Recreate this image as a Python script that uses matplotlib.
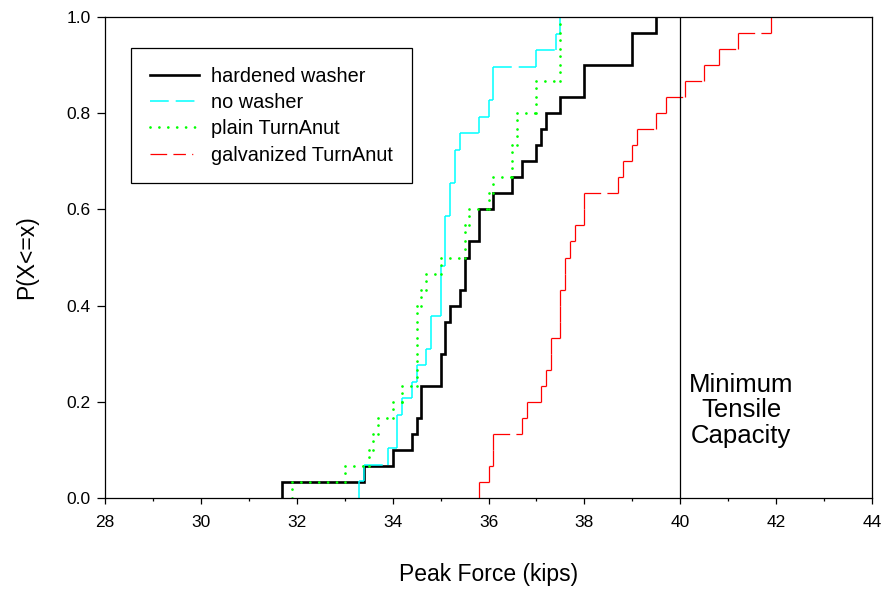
import numpy as np
import matplotlib
matplotlib.use("Agg")
import matplotlib.pyplot as plt
from matplotlib.collections import LineCollection
from matplotlib.lines import Line2D
from matplotlib.ticker import MultipleLocator

plt.rcParams['font.family'] = ['Liberation Sans', 'DejaVu Sans']
plt.rcParams['lines.scale_dashes'] = False

# peak force samples (kips) for each nut / washer setup
hardened_washer = [31.7, 33.4, 34.0, 34.4, 34.5, 34.6, 34.6, 35.0, 35.0, 35.1,
                   35.1, 35.2, 35.4, 35.5, 35.5, 35.6, 35.8, 35.8, 36.1, 36.5,
                   36.7, 37.0, 37.1, 37.2, 37.5, 38.0, 38.0, 39.0, 39.0, 39.5]
no_washer = [33.3, 33.4, 33.9, 34.1, 34.1, 34.2, 34.4, 34.5, 34.7, 34.8,
             34.8, 35.0, 35.0, 35.0, 35.1, 35.1, 35.1, 35.2, 35.2, 35.3,
             35.3, 35.4, 35.8, 36.0, 36.1, 36.1, 37.0, 37.4, 37.5]
plain_turnanut = [31.9, 33.0, 33.5, 33.6, 33.7, 34.0, 34.2, 34.5, 34.5, 34.5,
                  34.5, 34.5, 34.6, 34.7, 35.0, 35.5, 35.5, 35.6, 36.0, 36.1,
                  36.5, 36.5, 36.6, 36.6, 37.0, 37.0, 37.5, 37.5, 37.5, 37.5]
galvanized_turnanut = [35.8, 36.0, 36.1, 36.1, 36.7, 36.8, 37.1, 37.2, 37.3, 37.3,
                       37.5, 37.5, 37.5, 37.6, 37.6, 37.7, 37.8, 38.0, 38.0, 38.7,
                       38.8, 39.0, 39.1, 39.5, 39.7, 40.1, 40.5, 40.8, 41.2, 41.9]

min_tensile = 40.0
x_ticks = [28, 30, 32, 34, 36, 38, 40, 42, 44]
y_ticks = [0.0, 0.2, 0.4, 0.6, 0.8, 1.0]

# line styles (dash lengths in points)
DASH_NW = (0, (13.5, 5))
DOT_PT = (0, (0.01, 6.4))
DASH_GT = (0, (12, 4.5, 9, 4.5, 0.8, 4.5))


def ecdf_segments(samples):
    """one vertical edge per sample plus the tread to the next sample,
    so a dash pattern restarts on every piece"""
    x = np.sort(np.asarray(samples, dtype=float))
    n = len(x)
    segs = []
    for i in range(n):
        y0, y1 = i / n, (i + 1) / n
        segs.append([(x[i], y0), (x[i], y1)])
        if i + 1 < n and x[i + 1] > x[i]:
            segs.append([(x[i], y1), (x[i + 1], y1)])
    return segs


def ecdf_path(samples):
    x = np.sort(np.asarray(samples, dtype=float))
    n = len(x)
    xs, ys = [], []
    for i in range(n):
        xs += [x[i], x[i]]
        ys += [i / n, (i + 1) / n]
    return np.array(xs), np.array(ys)


fig = plt.figure(figsize=(8.86, 5.90), dpi=100)
ax = fig.add_axes([105 / 886, 1 - 498 / 590, 767 / 886, 481 / 590])

xs, ys = ecdf_path(hardened_washer)
ax.plot(xs, ys, color='black', lw=1.9, solid_joinstyle='miter')

ax.add_collection(LineCollection(ecdf_segments(no_washer), colors='#00FFFF',
                                 linewidths=1.1, linestyles=[DASH_NW]))
ax.add_collection(LineCollection(ecdf_segments(plain_turnanut), colors='#00FF00',
                                 linewidths=2.0, linestyles=[DOT_PT], capstyle='round'))
ax.add_collection(LineCollection(ecdf_segments(galvanized_turnanut), colors='#FF0000',
                                 linewidths=0.9, linestyles=[DASH_GT]))

ax.axvline(min_tensile, color='black', lw=0.9)
ax.text(41.27, 0.182, 'Minimum\nTensile\nCapacity', ha='center', va='center',
        multialignment='center', fontsize=18.5, linespacing=1.1)

ax.set_xlim(28, 44)
ax.set_ylim(0, 1)
ax.set_xticks(x_ticks)
ax.set_yticks(y_ticks)
ax.set_yticklabels([f'{v:.1f}' for v in y_ticks])
ax.xaxis.set_minor_locator(MultipleLocator(1))
ax.tick_params(axis='both', which='major', direction='out', labelsize=12.5,
               width=0.9, color='black')
ax.tick_params(axis='x', which='major', length=4, pad=8)
ax.tick_params(axis='x', which='minor', length=2.5, width=0.9)
ax.tick_params(axis='y', which='major', length=5.5, pad=5)
for sp in ax.spines.values():
    sp.set_linewidth(0.9)

ax.set_xlabel('Peak Force (kips)', fontsize=16.5, labelpad=24)
ax.set_ylabel('P(X<=x)', fontsize=16.5, labelpad=20)

handles = [
    Line2D([], [], color='black', lw=1.9),
    Line2D([], [], color='#00FFFF', lw=1.1, linestyle=DASH_NW),
    Line2D([], [], color='#00FF00', lw=2.0, linestyle=DOT_PT, dash_capstyle='round'),
    Line2D([], [], color='#FF0000', lw=0.9, linestyle=DASH_GT),
]
labels = ['hardened washer', 'no washer', 'plain TurnAnut', 'galvanized TurnAnut']
leg = ax.legend(handles, labels, loc='upper left',
                bbox_to_anchor=(0.0335, 0.935), borderaxespad=0, fontsize=14.3,
                frameon=True, fancybox=False, edgecolor='black', framealpha=1,
                handlelength=2.5, handletextpad=0.6, borderpad=0.95,
                labelspacing=0.36)
leg.get_frame().set_linewidth(0.9)

fig.savefig('out.png', dpi=100)
